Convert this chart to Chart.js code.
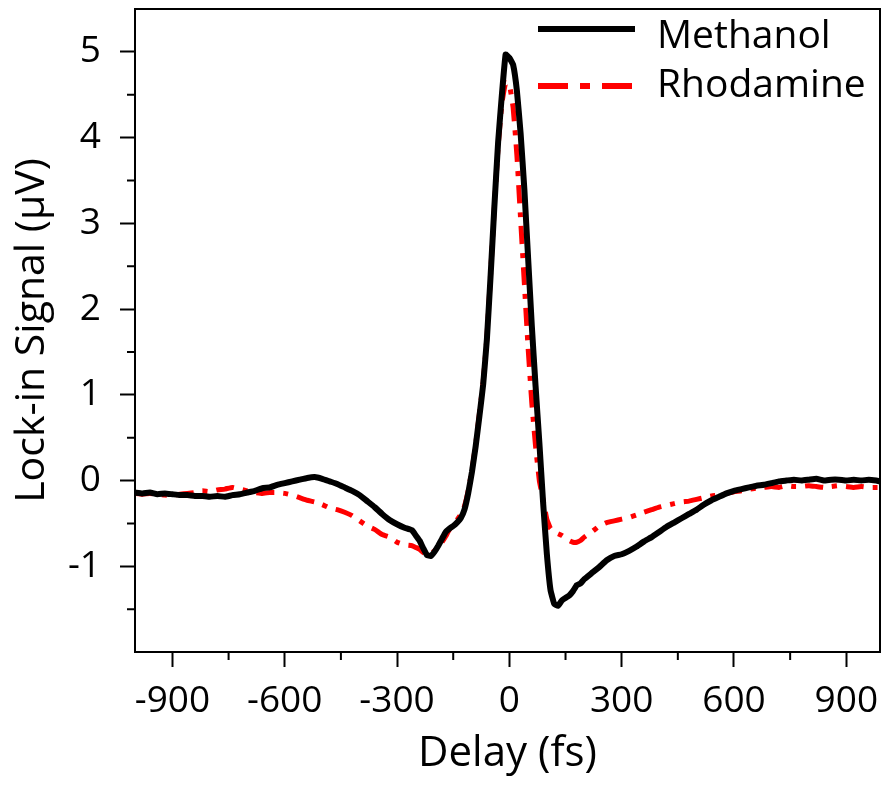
<!DOCTYPE html>
<html>
<head>
<meta charset="utf-8">
<script src="https://cdn.jsdelivr.net/npm/chart.js@4.4.1/dist/chart.umd.min.js"></script>
<style>
  html, body { margin: 0; padding: 0; background: #fff; }
  #wrap { width: 882px; height: 787px; }
</style>
</head>
<body>
<div id="wrap"><canvas id="chart" width="882" height="787"></canvas></div>
<script>
// delay (fs)
const delays = [
  -1000, -980, -960, -940, -920, -900, -880, -860, -840, -820,
  -800, -780, -760, -740, -720, -700, -680, -660, -640, -620,
  -600, -580, -560, -540, -520, -500, -480, -460, -440, -420,
  -400, -380, -360, -340, -320, -300, -280, -260,
  -250, -240, -230, -220, -210, -200, -190, -180, -170, -160,
  -150, -140, -130, -120, -110, -100, -90, -80, -70, -60,
  -50, -40, -30, -20, -10, 0, 10, 20, 30, 40,
  50, 60, 70, 80, 90, 100, 110, 120, 130, 140,
  150, 160, 170, 180, 190, 200,
  220, 240, 260, 280, 300, 320, 340, 360, 380, 400,
  420, 440, 460, 480, 500, 520, 540, 560, 580, 600,
  620, 640, 660, 680, 700, 720, 740, 760, 780, 800,
  820, 840, 860, 880, 900, 920, 940, 960, 980, 990
];

// lock-in signal (uV)
const methanol = [
  -0.14, -0.15, -0.14, -0.16, -0.15, -0.16, -0.17, -0.17, -0.18, -0.18,
  -0.19, -0.18, -0.19, -0.17, -0.16, -0.14, -0.12, -0.09, -0.08, -0.05,
  -0.03, -0.01, 0.01, 0.03, 0.04, 0.02, -0.01, -0.04, -0.08, -0.12,
  -0.17, -0.24, -0.31, -0.39, -0.46, -0.51, -0.55, -0.58,
  -0.64, -0.70, -0.79, -0.87, -0.88, -0.83, -0.76, -0.68, -0.60, -0.56,
  -0.53, -0.49, -0.44, -0.34, -0.15, 0.10, 0.40, 0.75, 1.12, 1.65,
  2.40, 3.20, 3.95, 4.50, 4.97, 4.93, 4.85, 4.55, 4.05, 3.40,
  2.60, 1.80, 1.10, 0.45, -0.25, -0.85, -1.28, -1.44, -1.46, -1.40,
  -1.37, -1.34, -1.29, -1.22, -1.20, -1.15,
  -1.08, -1.01, -0.93, -0.88, -0.86, -0.82, -0.77, -0.71, -0.66, -0.60,
  -0.54, -0.49, -0.44, -0.39, -0.34, -0.28, -0.23, -0.19, -0.15, -0.12,
  -0.10, -0.08, -0.06, -0.05, -0.03, -0.01, 0.00, 0.01, 0.00, 0.01,
  0.02, 0.00, 0.01, 0.01, 0.00, 0.01, 0.00, 0.01, 0.00, -0.01
];

const rhodamine = [
  -0.15, -0.16, -0.15, -0.16, -0.17, -0.17, -0.16, -0.15, -0.14, -0.12,
  -0.13, -0.11, -0.10, -0.08, -0.10, -0.12, -0.14, -0.15, -0.14, -0.14,
  -0.15, -0.17, -0.20, -0.23, -0.25, -0.28, -0.32, -0.34, -0.37, -0.41,
  -0.47, -0.53, -0.57, -0.63, -0.66, -0.72, -0.75, -0.76,
  -0.78, -0.80, -0.84, -0.86, -0.85, -0.82, -0.78, -0.72, -0.65, -0.57,
  -0.52, -0.46, -0.40, -0.30, -0.12, 0.12, 0.42, 0.78, 1.15, 1.67,
  2.42, 3.20, 3.90, 4.40, 4.64, 4.62, 4.35, 3.80, 3.05, 2.30,
  1.55, 0.90, 0.40, 0.00, -0.22, -0.45, -0.56, -0.60, -0.62, -0.64,
  -0.67, -0.70, -0.72, -0.72, -0.70, -0.66,
  -0.60, -0.53, -0.49, -0.47, -0.45, -0.43, -0.40, -0.37, -0.34, -0.31,
  -0.29, -0.27, -0.25, -0.24, -0.22, -0.20, -0.18, -0.17, -0.15, -0.13,
  -0.12, -0.10, -0.09, -0.08, -0.07, -0.08, -0.06, -0.07, -0.07, -0.06,
  -0.07, -0.08, -0.07, -0.06, -0.07, -0.08, -0.07, -0.08, -0.08, -0.08
];

const seriesNames = ["Methanol", "Rhodamine"];
const xMajorTicks = [-900, -600, -300, 0, 300, 600, 900];
const xMinorTicks = [-750, -450, -150, 150, 450, 750];
const yMajorTicks = [-1, 0, 1, 2, 3, 4, 5];
const yMinorTicks = [-1.5, -0.5, 0.5, 1.5, 2.5, 3.5, 4.5];

const toPoints = (ys) => delays.map((d, i) => ({ x: d, y: ys[i] }));

Chart.defaults.font.family = "'Open Sans', 'Noto Sans', sans-serif";
Chart.defaults.color = "#000";

// box around the plot + the short minor ticks
const framePlugin = {
  id: "frame",
  afterDraw(chart) {
    const { ctx, chartArea: a, scales } = chart;
    ctx.save();
    ctx.strokeStyle = "#000";
    ctx.lineWidth = 2;
    ctx.strokeRect(a.left, a.top, a.right - a.left, a.bottom - a.top);
    ctx.beginPath();
    xMinorTicks.forEach(v => {
      const px = scales.x.getPixelForValue(v);
      ctx.moveTo(px, a.bottom);
      ctx.lineTo(px, a.bottom + 8);
    });
    yMinorTicks.forEach(v => {
      const py = scales.y.getPixelForValue(v);
      ctx.moveTo(a.left, py);
      ctx.lineTo(a.left - 8, py);
    });
    ctx.stroke();
    ctx.restore();
  }
};

// legend drawn inside the top right corner
const legendPlugin = {
  id: "insideLegend",
  afterDraw(chart) {
    const { ctx, chartArea: a } = chart;
    const rows = [{ lineY: a.top + 20, textY: a.top + 39 }, { lineY: a.top + 77, textY: a.top + 88 }];
    const x0 = a.right - 342;
    ctx.save();
    ctx.font = "39px 'Open Sans'";
    ctx.textBaseline = "alphabetic";
    chart.data.datasets.forEach((ds, i) => {
      const r = rows[i];
      ctx.strokeStyle = ds.borderColor;
      ctx.lineWidth = 6;
      ctx.setLineDash(ds.borderDash ? [30, 12, 10, 12] : []);
      ctx.beginPath();
      ctx.moveTo(x0, r.lineY);
      ctx.lineTo(x0 + 97, r.lineY);
      ctx.stroke();
      ctx.setLineDash([]);
      ctx.fillStyle = "#000";
      ctx.fillText(ds.label, x0 + 119, r.textY);
    });
    ctx.restore();
  }
};

new Chart(document.getElementById("chart"), {
  type: "line",
  data: {
    datasets: [
      {
        label: seriesNames[0],
        data: toPoints(methanol),
        borderColor: "#000000",
        borderWidth: 6,
        pointRadius: 0,
        tension: 0.1,
        borderJoinStyle: "round",
        borderCapStyle: "round"
      },
      {
        label: seriesNames[1],
        data: toPoints(rhodamine),
        borderColor: "#ff0000",
        borderWidth: 5,
        borderDash: [18, 9, 5, 9],
        pointRadius: 0,
        tension: 0.1,
        borderJoinStyle: "round"
      }
    ]
  },
  options: {
    responsive: false,
    animation: false,
    devicePixelRatio: 1,
    layout: { padding: { top: 9, right: 2, left: 0, bottom: 0 } },
    plugins: { legend: { display: false }, tooltip: { enabled: false } },
    scales: {
      x: {
        type: "linear",
        min: -1000,
        max: 990,
        afterFit: (s) => { s.height = 135; s.paddingLeft = 0; s.paddingRight = 0; },
        afterBuildTicks: (s) => { s.ticks = xMajorTicks.map(v => ({ value: v })); },
        ticks: { font: { size: 37 }, color: "#000", padding: 12, maxRotation: 0, autoSkip: false },
        grid: { drawOnChartArea: false, tickLength: 15, tickWidth: 2, tickColor: "#000" },
        border: { color: "#000", width: 2 },
        title: { display: true, text: "Delay (fs)", font: { size: 42 }, color: "#000", padding: { top: 0, bottom: 8 } }
      },
      y: {
        min: -2,
        max: 5.5,
        afterFit: (s) => { s.width = 135; s.paddingTop = 0; s.paddingBottom = 0; },
        afterBuildTicks: (s) => { s.ticks = yMajorTicks.map(v => ({ value: v })); },
        ticks: { font: { size: 37 }, color: "#000", padding: 19, autoSkip: false },
        grid: { drawOnChartArea: false, tickLength: 15, tickWidth: 2, tickColor: "#000" },
        border: { color: "#000", width: 2 },
        title: { display: true, text: "Lock-in Signal (μV)", font: { size: 41 }, color: "#000", padding: { top: 8, bottom: 0 } }
      }
    }
  },
  plugins: [framePlugin, legendPlugin]
});
</script>
</body>
</html>
